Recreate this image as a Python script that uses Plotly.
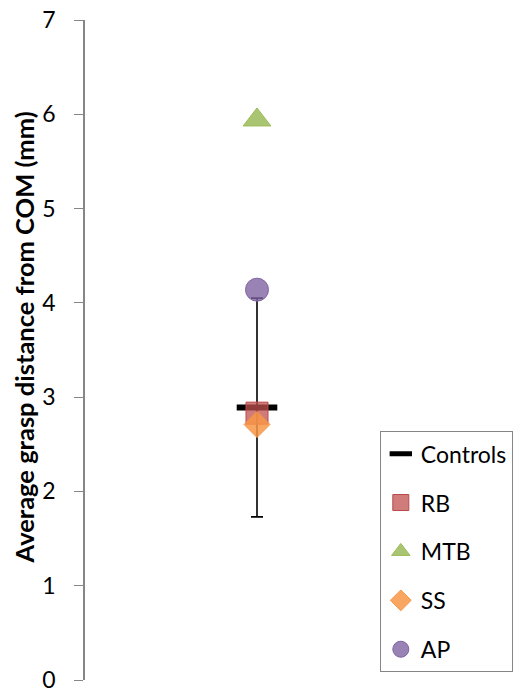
import plotly.graph_objects as go

# Data
series_names = ["Controls", "RB", "MTB", "SS", "AP"]
series_values = [2.89, 2.83, 5.94, 2.71, 4.14]
controls_error = [1.16]
y_ticks = [0, 1, 2, 3, 4, 5, 6, 7]

symbols = ["line-ew", "square", "triangle-up", "diamond", "circle"]
fills = ["black", "rgba(192,80,77,0.75)", "rgba(155,187,89,0.85)",
         "rgba(247,150,70,0.85)", "rgba(128,100,162,0.8)"]
edges = ["black", "#B84A47", "#9BBB59", "#F79646", "#8064A2"]
sizes = [29, 22, 24, 20, 23]

fig = go.Figure()
for i, name in enumerate(series_names):
    kw = {}
    if name == "Controls":
        kw["error_y"] = dict(type="data", array=controls_error, symmetric=True,
                             color="black", thickness=1.6, width=6)
        marker = dict(symbol=symbols[i], size=sizes[i],
                      line=dict(color="black", width=6))
    else:
        marker = dict(symbol=symbols[i], size=sizes[i], color=fills[i],
                      line=dict(color=edges[i], width=1))
    fig.add_trace(go.Scatter(x=[1], y=[series_values[i]], mode="markers",
                             name=name, marker=marker, legendgroup=name, **kw))

fig.update_layout(
    width=513, height=692,
    margin=dict(l=85, r=84, t=20, b=12, autoexpand=False),
    paper_bgcolor="white", plot_bgcolor="white",
    font=dict(family="Lato", size=23, color="black"),
    showlegend=True,
    legend=dict(x=0.857, y=0.377, xanchor="left", yanchor="top",
                bordercolor="#868686", borderwidth=1, bgcolor="white",
                font=dict(size=23, color="black"), tracegroupgap=16,
                itemsizing="trace"),
    xaxis=dict(range=[0, 2], visible=False, fixedrange=True),
    yaxis=dict(range=[0, 7], tickvals=y_ticks, ticks="outside", ticklen=9,
               tickcolor="#868686", showline=True, linecolor="#868686",
               linewidth=1.5, showgrid=False, zeroline=False, automargin=False,
               ticklabelstandoff=14, ticklabeloverflow="allow",
               tickfont=dict(size=23, color="black"),
               title=dict(text="&nbsp;&nbsp;&nbsp;&nbsp;<b>Average grasp distance from COM (mm)</b>",
                          font=dict(size=25.5), standoff=0)),
)

fig.write_html("out.html", config={"displayModeBar": False},
               post_script="document.body.style.margin='0';document.body.style.overflow='hidden';")
